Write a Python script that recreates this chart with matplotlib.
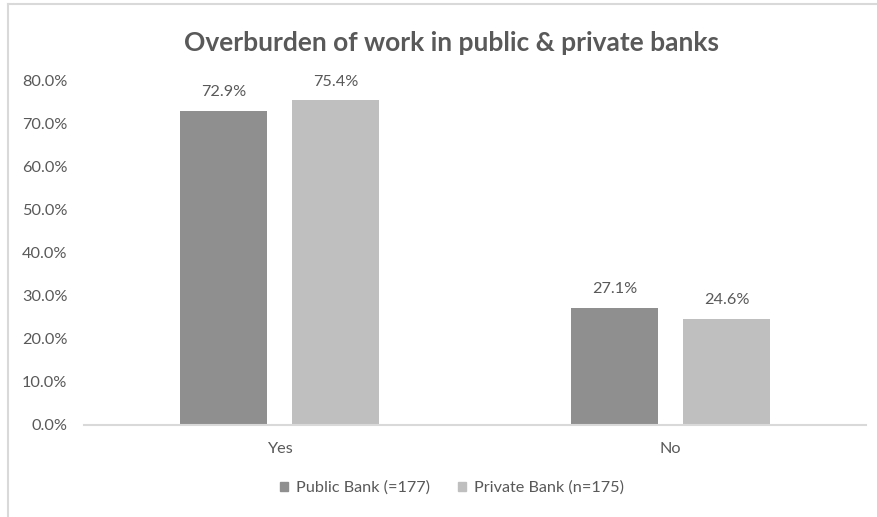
import matplotlib
matplotlib.use("Agg")
import matplotlib.pyplot as plt
from matplotlib.lines import Line2D
from matplotlib.patches import Patch
from matplotlib.ticker import PercentFormatter
import numpy as np

categories = ["Yes", "No"]
public_bank = [72.9, 27.1]
private_bank = [75.4, 24.6]
series_labels = ["Public Bank (=177)", "Private Bank (n=175)"]
title = "Overburden of work in public & private banks"

plt.rcParams["font.family"] = ["Lato", "DejaVu Sans"]
text_color = "#595959"
c_public = "#8f8f8f"
c_private = "#bfbfbf"
fs = 11.7

W, H = 877, 517
fig = plt.figure(figsize=(W / 100, H / 100), dpi=100)
ax = fig.add_axes([84 / W, 1 - 425 / H, (866 - 84) / W, (425 - 80.5) / H])

x = np.arange(len(categories))
bw = 0.2225
off = (bw + 0.064) / 2
b1 = ax.bar(x - off, public_bank, bw, color=c_public, label=series_labels[0])
b2 = ax.bar(x + off, private_bank, bw, color=c_private, label=series_labels[1])

for bars, vals in ((b1, public_bank), (b2, private_bank)):
    for rect, v in zip(bars, vals):
        ax.annotate(f"{v:.1f}%", (rect.get_x() + rect.get_width() / 2, v),
                    xytext=(0, 8.5), textcoords="offset points",
                    ha="center", va="bottom", fontsize=fs, color=text_color)

ax.set_xlim(-0.5, 1.5)
ax.set_ylim(0, 80)
ax.set_yticks(np.arange(0, 81, 10))
ax.yaxis.set_major_formatter(PercentFormatter(decimals=1))
ax.set_xticks(x)
ax.set_xticklabels(categories)
ax.tick_params(axis="both", length=0, labelsize=fs, labelcolor=text_color)
ax.tick_params(axis="y", pad=12)
ax.tick_params(axis="x", pad=12)
for s in ("top", "right", "left"):
    ax.spines[s].set_visible(False)
ax.spines["bottom"].set_color("#d9d9d9")
ax.spines["bottom"].set_linewidth(1.5)

fig.text(452 / W, 1 - 43 / H, title, ha="center", va="center",
         fontsize=19, fontweight="bold", color=text_color)

handles = [Patch(color=c_public), Patch(color=c_private)]
fig.legend(handles, series_labels, loc="center", bbox_to_anchor=(452 / W, 1 - 488 / H),
           ncol=2, frameon=False, fontsize=fs, labelcolor=text_color,
           handlelength=0.5, handleheight=0.5, handletextpad=0.5, columnspacing=1.75)

# chart frame
fig.add_artist(Line2D([7.5 / W, 7.5 / W], [0, 1 - 4 / H], color="#d9d9d9", lw=1.5,
                      transform=fig.transFigure))
fig.add_artist(Line2D([7.5 / W, 1], [1 - 4 / H, 1 - 4 / H], color="#d9d9d9", lw=1.5,
                      transform=fig.transFigure))

fig.savefig("out.png", dpi=100, facecolor="white")
